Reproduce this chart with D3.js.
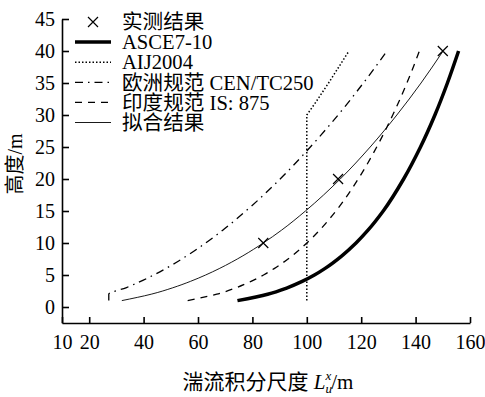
<!DOCTYPE html>
<html>
<head>
<meta charset="utf-8">
<script src="https://cdn.jsdelivr.net/npm/d3@7"></script>
<style>
  body { margin: 0; background: #fff; }
  text { font-family: "Liberation Serif", "Noto Sans CJK SC", serif; fill: #000; }
</style>
</head>
<body>
<div class="chart"></div>
<script>
// heights (m) shared by the code curves
const heights = [1, 2, 3, 4, 5, 6, 8, 10, 12, 15, 20, 25, 30, 35, 40];
const asce = [74.5, 85.6, 92.8, 98.3, 102.8, 106.6, 112.9, 118.1, 122.5, 128.1, 135.6, 141.8, 147.1, 151.7, 155.8];
const euro = [27.2, 27.2, 33.5, 38.9, 43.7, 48.1, 55.9, 62.8, 69.1, 77.6, 90.2, 101.3, 111.5, 120.8, 129.5];
const india = [56.2, 66.9, 74.0, 79.5, 84.1, 88.0, 94.6, 100, 104.7, 110.7, 118.9, 125.7, 131.6, 136.8, 141.4];
const fitted = [32, 42.8, 50.7, 57.2, 62.8, 67.8, 76.5, 84.0, 90.7, 99.5, 112.3, 123.3, 133.1, 142.0, 150.1];
const aijHeights = [1, 30, 32, 35, 38, 40];
const aij = [100, 100, 103.3, 108, 112.5, 115.5];
const measHeights = [10, 20, 40];
const measured = [84, 111.5, 150];

const xTicks = [10, 20, 40, 60, 80, 100, 120, 140, 160];
const yTicks = [0, 5, 10, 15, 20, 25, 30, 35, 40, 45];

const legendNames = ['实测结果', 'ASCE7-10', 'AIJ2004', '欧洲规范 CEN/TC250', '印度规范 IS: 875', '拟合结果'];

const width = 485;
const height = 397;

const svg = d3.select('.chart')
  .append('svg')
  .attr('width', width)
  .attr('height', height);

svg.append('rect').attr('width', width).attr('height', height).attr('fill', '#fff');

const x = d3.scaleLinear().domain([10, 160]).range([62, 470]);
const y = d3.scaleLinear().domain([-2.5, 45]).range([323, 19]);

// axes, ticks pointing inwards
const xAxis = d3.axisBottom(x).tickValues(xTicks).tickFormat(d3.format('d'))
  .tickSizeInner(-6).tickSizeOuter(0).tickPadding(12);
const yAxis = d3.axisLeft(y).tickValues(yTicks).tickFormat(d3.format('d'))
  .tickSizeInner(-7).tickSizeOuter(0).tickPadding(7);

const gX = svg.append('g').attr('transform', `translate(0,${y.range()[0]})`).call(xAxis);
const gY = svg.append('g').attr('transform', `translate(${x.range()[0]},0)`).call(yAxis);

[gX, gY].forEach((g) => {
  g.selectAll('path, line').attr('stroke', '#000').attr('stroke-width', 1.6);
  g.selectAll('text').style('font-size', '20px').style('font-family', '"Liberation Serif", serif');
});

// curves
const series = [
  { name: 'asce', xs: asce, ys: heights, width: 3.5, dash: null, curve: d3.curveMonotoneY },
  { name: 'aij', xs: aij, ys: aijHeights, width: 1.5, dash: '1.5,2', curve: d3.curveLinear },
  { name: 'euro', xs: euro, ys: heights, width: 1.3, dash: '8,5,1.5,5', curve: d3.curveMonotoneY },
  { name: 'india', xs: india, ys: heights, width: 1.3, dash: '7,6', curve: d3.curveMonotoneY },
  { name: 'fit', xs: fitted, ys: heights, width: 0.9, dash: null, curve: d3.curveMonotoneY }
];

series.forEach((s) => {
  const pts = s.xs.map((v, k) => [v, s.ys[k]]);
  const line = d3.line().x((d) => x(d[0])).y((d) => y(d[1])).curve(s.curve);
  svg.append('path')
    .datum(pts)
    .attr('fill', 'none')
    .attr('stroke', '#000')
    .attr('stroke-width', s.width)
    .attr('stroke-dasharray', s.dash)
    .attr('d', line);
});

// measured points as crosses
const cross = (g, cx, cy, r) => {
  g.append('path')
    .attr('d', `M${cx - r},${cy - r}L${cx + r},${cy + r}M${cx - r},${cy + r}L${cx + r},${cy - r}`)
    .attr('stroke', '#000')
    .attr('stroke-width', 1.2)
    .attr('fill', 'none');
};
measured.forEach((v, k) => cross(svg, x(v), y(measHeights[k]), 5));

// legend
const legend = svg.append('g');
const rowY = (k) => 22 + k * 20.1;
cross(legend, 93, rowY(0), 5);
series.forEach((s, k) => {
  legend.append('line')
    .attr('x1', 75).attr('x2', 111)
    .attr('y1', rowY(k + 1)).attr('y2', rowY(k + 1))
    .attr('stroke', '#000')
    .attr('stroke-width', s.width)
    .attr('stroke-dasharray', s.dash);
});
legendNames.forEach((n, k) => {
  legend.append('text')
    .attr('x', 122)
    .attr('y', rowY(k))
    .attr('dy', '0.35em')
    .style('font-size', '20.6px')
    .text(n);
});

// axis titles
svg.append('text')
  .attr('transform', 'translate(22,164) rotate(-90)')
  .attr('text-anchor', 'middle')
  .style('font-size', '20px')
  .text('高度/m');

const xt = svg.append('text')
  .attr('x', 268)
  .attr('y', 389)
  .attr('text-anchor', 'middle')
  .style('font-size', '21px');
xt.append('tspan').text('湍流积分尺度 ');
xt.append('tspan').style('font-style', 'italic').text('L');
xt.append('tspan').style('font-style', 'italic').style('font-size', '13px').attr('dy', 4).text('u');
xt.append('tspan').style('font-style', 'italic').style('font-size', '13px').attr('dx', -6.5).attr('dy', -13).text('x');
xt.append('tspan').attr('dy', 9).text('/m');
</script>
</body>
</html>
